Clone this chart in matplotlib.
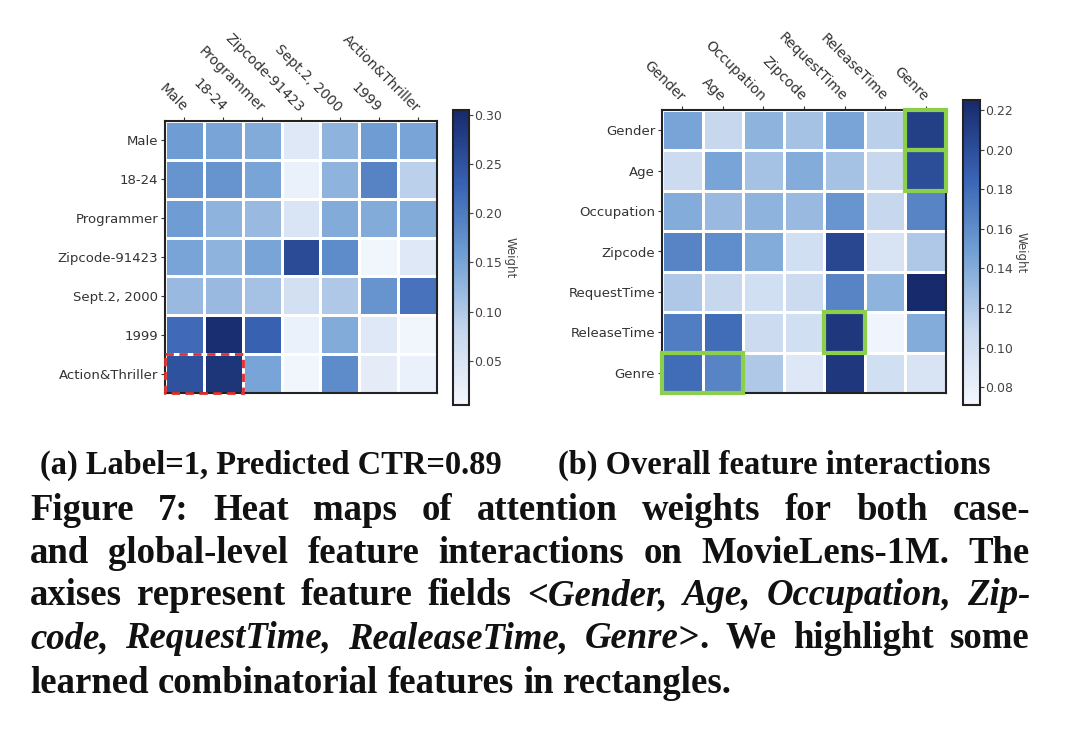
import matplotlib
matplotlib.use('Agg')
import matplotlib.pyplot as plt
import numpy as np
from matplotlib.colors import LinearSegmentedColormap
from matplotlib.patches import Rectangle

# (a) case-level attention weights
case_labels = ["Male", "18-24", "Programmer", "Zipcode-91423", "Sept.2, 2000", "1999", "Action&Thriller"]
case_weights = np.array([
    [0.16, 0.15, 0.14, 0.04, 0.13, 0.16, 0.15],
    [0.17, 0.17, 0.15, 0.02, 0.13, 0.19, 0.09],
    [0.16, 0.13, 0.12, 0.05, 0.14, 0.14, 0.14],
    [0.15, 0.13, 0.15, 0.26, 0.18, 0.01, 0.04],
    [0.12, 0.12, 0.11, 0.06, 0.10, 0.17, 0.21],
    [0.22, 0.30, 0.23, 0.02, 0.14, 0.04, 0.01],
    [0.25, 0.29, 0.15, 0.01, 0.18, 0.03, 0.02],
])
case_ticks = [0.05, 0.10, 0.15, 0.20, 0.25, 0.30]
case_boxes = [(0, 6, 2, 1)]  # (col, row, n cols, n rows)

# (b) overall feature interactions
field_labels = ["Gender", "Age", "Occupation", "Zipcode", "RequestTime", "ReleaseTime", "Genre"]
field_weights = np.array([
    [0.145, 0.110, 0.135, 0.125, 0.145, 0.115, 0.210],
    [0.105, 0.145, 0.125, 0.140, 0.125, 0.110, 0.200],
    [0.140, 0.130, 0.135, 0.130, 0.155, 0.110, 0.165],
    [0.165, 0.160, 0.140, 0.100, 0.205, 0.095, 0.120],
    [0.120, 0.110, 0.100, 0.105, 0.165, 0.135, 0.225],
    [0.170, 0.180, 0.105, 0.100, 0.215, 0.075, 0.140],
    [0.180, 0.165, 0.120, 0.090, 0.215, 0.100, 0.095],
])
field_ticks = [0.08, 0.10, 0.12, 0.14, 0.16, 0.18, 0.20, 0.22]
field_boxes = [(6, 0, 1, 1), (6, 1, 1, 1), (4, 5, 1, 1), (0, 6, 2, 1)]

sub_captions = ["(a) Label=1, Predicted CTR=0.89", "(b) Overall feature interactions"]
caption_lines = [
    [("Figure 7: Heat maps of attention weights for both case-", False)],
    [("and global-level feature interactions on MovieLens-1M. The", False)],
    [("axises represent feature fields ", False), ("<Gender, Age, Occupation, Zip-", True)],
    [("code, RequestTime, RealeaseTime, Genre>", True), (". We highlight some", False)],
    [("learned combinatorial features in rectangles.", False)],
]

cmap = LinearSegmentedColormap.from_list(
    'att', ['#f4f7fd', '#c6d7ee', '#72a0d5', '#3862b3', '#172a6b'])

W, H = 1080, 734
fig = plt.figure(figsize=(10.8, 7.34), dpi=100)
renderer = fig.canvas.get_renderer()

def px_axes(x0, y0, x1, y1):
    return fig.add_axes([x0 / W, 1 - y1 / H, (x1 - x0) / W, (y1 - y0) / H])

def draw_heatmap(ax, cax, data, labels, vmin, vmax, ticks, boxes, box_kw):
    n = len(labels)
    mesh = ax.pcolormesh(np.arange(n + 1), np.arange(n + 1), data, cmap=cmap,
                         vmin=vmin, vmax=vmax, edgecolors='white', linewidth=1.8)
    ax.set_xlim(0, n)
    ax.set_ylim(n, 0)
    ax.set_xticks(np.arange(n) + 0.5)
    ax.set_yticks(np.arange(n) + 0.5)
    ax.set_xticklabels(labels, rotation=-45, ha='right', va='center',
                       rotation_mode='anchor', fontsize=10, color='#333333')
    ax.set_yticklabels(labels, fontsize=9.5, color='#333333')
    ax.tick_params(top=True, bottom=False, labeltop=True, labelbottom=False,
                   length=3, width=0.8, pad=2, color='#333333')
    ax.tick_params(axis='x', pad=5)
    for s in ax.spines.values():
        s.set_linewidth(1.5)
        s.set_color('#222222')

    for c, r, w, h in boxes:
        ax.add_patch(Rectangle((c, r), w, h, fill=False, clip_on=False, zorder=5, **box_kw))

    cb = fig.colorbar(mesh, cax=cax, ticks=ticks, format='%.2f')
    cb.outline.set_linewidth(1.5)
    cb.outline.set_edgecolor('#222222')
    cax.tick_params(labelsize=9, colors='#444444', length=3, width=0.8, pad=1)
    cb.set_label('Weight', rotation=270, fontsize=8.5, color='#444444', labelpad=10)

# left heatmap
ax1 = px_axes(165, 121, 437, 393)
cax1 = px_axes(453, 110, 469, 405)
draw_heatmap(ax1, cax1, case_weights, case_labels, 0.005, 0.305, case_ticks, case_boxes,
             dict(edgecolor='#e0302a', linestyle=(0, (3, 2)), linewidth=2))

# right heatmap
ax2 = px_axes(662, 110, 946, 393)
cax2 = px_axes(963, 100, 980, 405)
draw_heatmap(ax2, cax2, field_weights, field_labels, 0.071, 0.225, field_ticks, field_boxes,
             dict(edgecolor='#8ccf4a', linewidth=3))

# caption text, justified like the paper
serif = 'Liberation Serif'

def text_width(s, fs, italic):
    t = fig.text(0, 0, s, fontsize=fs, family=serif, weight='bold',
                 style='italic' if italic else 'normal')
    w = t.get_window_extent(renderer).width
    t.remove()
    return w

def split_words(segs):
    words = [[]]
    for s, it in segs:
        parts = s.split(' ')
        for i, p in enumerate(parts):
            if i > 0:
                words.append([])
            if p:
                words[-1].append((p, it))
    return [w for w in words if w]

def put_line(segs, y, fs, x0, x1, justify):
    words = split_words(segs)
    piece_w = [[text_width(p, fs, it) for p, it in w] for w in words]
    word_w = [sum(pw) for pw in piece_w]
    if justify and len(words) > 1:
        gap = (x1 - x0 - sum(word_w)) / (len(words) - 1)
    else:
        gap = text_width('x x', fs, False) - text_width('xx', fs, False)
    x = x0
    for w, pw in zip(words, piece_w):
        for (p, it), wp in zip(w, pw):
            fig.text(x / W, 1 - y / H, p, fontsize=fs, family=serif, weight='bold',
                     style='italic' if it else 'normal', color='#111111',
                     ha='left', va='baseline')
            x += wp
        x += gap

cap_fs = 26.5

# sub-captions: shrink if needed so (a) and (b) keep their widths
sub_fs = min(cap_fs, cap_fs * 462 / text_width(sub_captions[0], cap_fs, False),
             cap_fs * 465 / text_width(sub_captions[1], cap_fs, False))
fig.text(40 / W, 1 - 474 / H, sub_captions[0], fontsize=sub_fs, family=serif,
         weight='bold', color='#111111', ha='left', va='baseline')
fig.text(558 / W, 1 - 474 / H, sub_captions[1], fontsize=sub_fs, family=serif,
         weight='bold', color='#111111', ha='left', va='baseline')

baselines = [520, 563, 605, 648, 693]
for i, (segs, yb) in enumerate(zip(caption_lines, baselines)):
    put_line(segs, yb, cap_fs, 30, 1030, i < len(caption_lines) - 1)

fig.savefig('out.png', dpi=100)
